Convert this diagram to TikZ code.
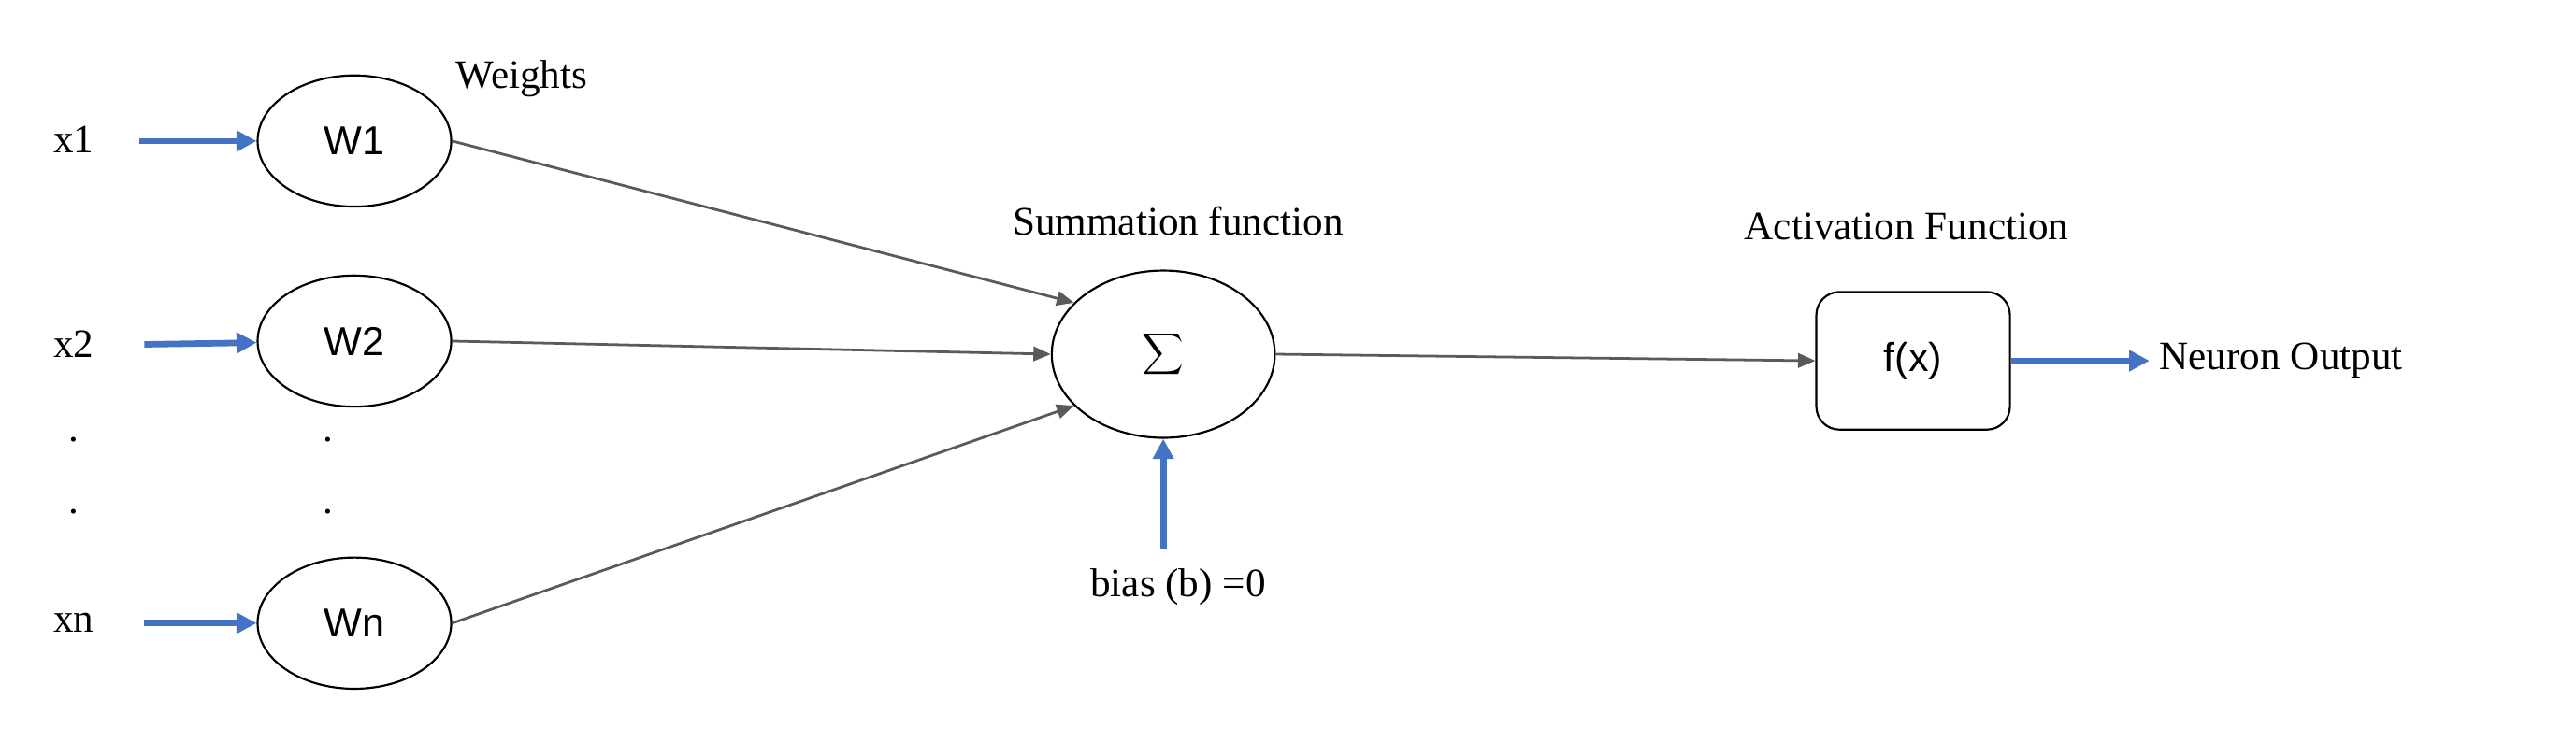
\documentclass[tikz,border=0pt]{standalone}
\usepackage{fontspec}
\setmainfont{Liberation Serif}
\newfontfamily\sansf{Liberation Sans}
\usetikzlibrary{arrows.meta,shapes.geometric}
\begin{document}
\begin{tikzpicture}[x=0.02cm,y=-0.02cm,
  lbl/.style={font=\fontsize{14}{16}\selectfont},
  wn/.style={draw,ellipse,inner sep=0pt,minimum width=2.36cm,minimum height=1.6cm,font=\sansf\fontsize{14}{16}\selectfont,line width=0.7pt},
  blue/.style={draw={rgb,255:red,68;green,114;blue,196},line width=2.2pt,-{Triangle[length=7pt,width=7pt]}},
  gray/.style={draw={rgb,255:red,90;green,90;blue,90},line width=0.9pt,-{Triangle[length=6pt,width=5pt]}}]
\useasboundingbox (0,0) rectangle (1570,452);
\node[lbl] (x1) at (45,85) {x1};
\node[lbl] (x2) at (45,210) {x2};
\node[lbl] (xn) at (45,380) {xn};
\node[lbl] (d1) at (45,268) {.};
\node[lbl] (d2) at (45,312) {.};
\node[lbl] (d3) at (200,268) {.};
\node[lbl] (d4) at (200,312) {.};
\node[wn] (w1) at (216,86) {W1};
\node[wn] (w2) at (216,208) {W2};
\node[wn] (wn) at (216,380) {Wn};
\node[lbl] (wl) at (318,48) {Weights};
\node[draw,ellipse,inner sep=0pt,minimum width=2.72cm,minimum height=2.04cm,line width=0.7pt,font=\fontsize{24}{26}\selectfont] (s) at (709,216) {$\displaystyle\sum$};
\node[lbl] (sl) at (718,135) {Summation function};
\node[lbl] (bl) at (718,358) {bias (b) =0};
\coordinate (bs) at (709,335);
\node[draw,rounded corners=8pt,inner sep=0pt,minimum width=2.36cm,minimum height=1.68cm,line width=0.7pt,font=\sansf\fontsize{14}{16}\selectfont] (f) at (1166,220) {f(x)};
\node[lbl] (al) at (1162,138) {Activation Function};
\node[lbl,anchor=west] (out) at (1310,220) {Neuron Output};
\draw[blue] (85,86) -- (w1);
\draw[blue] (88,210) -- (w2);
\draw[blue] (88,380) -- (wn);
\draw[blue] (bs) -- (s);
\draw[blue] (f.east) -- (out.west);
\draw[gray] (w1.east) -- (s.150);
\draw[gray] (w2.east) -- (s.west);
\draw[gray] (wn.east) -- (s.210);
\draw[gray] (s.east) -- (f.west);
\end{tikzpicture}
\end{document}
